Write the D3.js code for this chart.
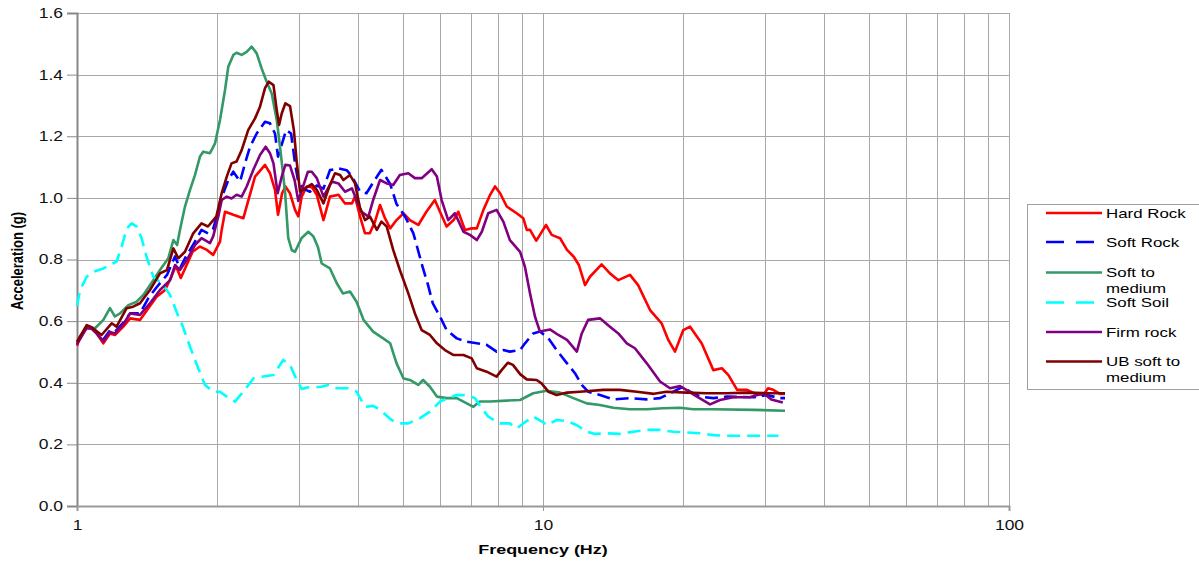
<!DOCTYPE html>
<html>
<head>
<meta charset="utf-8">
<script src="https://cdn.jsdelivr.net/npm/d3@7"></script>
<style>
  body { margin: 0; background: #fff; }
  svg { display: block; font-family: "Liberation Sans", Arial, sans-serif; }
</style>
</head>
<body>
<svg id="chart" width="1199" height="564"></svg>
<script>
// Spectral acceleration (g) versus frequency (Hz), one [frequency, acceleration] list per site class
const hardRock = [[1.00,0.52],[1.015,0.55],[1.049,0.577],[1.075,0.577],[1.102,0.56],[1.139,0.528],[1.177,0.56],[1.206,0.555],[1.257,0.582],[1.30,0.609],[1.365,0.604],[1.423,0.642],[1.482,0.679],[1.545,0.701],[1.59,0.74],[1.63,0.78],[1.67,0.74],[1.705,0.77],[1.77,0.825],[1.836,0.842],[1.90,0.831],[1.96,0.815],[2.027,0.858],[2.044,0.896],[2.078,0.955],[2.165,0.945],[2.275,0.934],[2.41,1.069],[2.532,1.107],[2.595,1.08],[2.66,1.026],[2.70,0.945],[2.755,1.015],[2.80,1.037],[2.865,1.015],[2.937,0.961],[2.985,0.94],[3.035,1.004],[3.11,1.037],[3.19,1.035],[3.27,1.01],[3.38,0.928],[3.49,1.004],[3.64,1.01],[3.76,0.982],[3.89,0.982],[3.95,1.004],[4.05,0.939],[4.15,0.885],[4.25,0.885],[4.36,0.923],[4.47,0.977],[4.58,0.934],[4.70,0.901],[4.85,0.928],[5.02,0.95],[5.18,0.928],[5.40,0.912],[5.62,0.955],[5.86,0.993],[6.01,0.955],[6.21,0.907],[6.43,0.928],[6.58,0.955],[6.80,0.896],[7.03,0.901],[7.21,0.901],[7.45,0.961],[7.70,1.01],[7.89,1.037],[8.09,1.015],[8.36,0.972],[8.78,0.95],[9.07,0.934],[9.23,0.896],[9.38,0.896],[9.67,0.861],[9.85,0.88],[10.15,0.912],[10.44,0.88],[10.88,0.869],[11.26,0.831],[11.64,0.809],[11.94,0.782],[12.31,0.717],[12.61,0.744],[13.36,0.784],[13.92,0.755],[14.51,0.733],[15.37,0.75],[16.0,0.717],[16.97,0.636],[17.97,0.593],[18.57,0.539],[19.2,0.501],[20.0,0.571],[20.68,0.582],[21.9,0.528],[23.2,0.441],[24.2,0.447],[25.0,0.425],[26.1,0.377],[27.4,0.377],[28.4,0.366],[29.7,0.36],[30.4,0.382],[31.2,0.377],[32.25,0.364],[33.06,0.364]];

const softRock = [[1.00,0.53],[1.049,0.58],[1.075,0.578],[1.102,0.565],[1.139,0.54],[1.177,0.57],[1.206,0.565],[1.257,0.595],[1.30,0.625],[1.365,0.625],[1.423,0.675],[1.482,0.71],[1.56,0.75],[1.623,0.81],[1.663,0.771],[1.705,0.804],[1.791,0.858],[1.85,0.896],[1.91,0.885],[1.96,0.90],[2.01,0.955],[2.06,1.015],[2.112,1.058],[2.165,1.085],[2.238,1.053],[2.294,1.112],[2.351,1.166],[2.43,1.209],[2.532,1.247],[2.595,1.242],[2.66,1.209],[2.70,1.134],[2.755,1.177],[2.81,1.22],[2.88,1.209],[2.937,1.112],[2.985,1.05],[3.06,1.03],[3.162,1.02],[3.27,1.04],[3.38,1.03],[3.49,1.09],[3.64,1.096],[3.79,1.09],[3.89,1.07],[4.05,1.02],[4.18,1.015],[4.32,1.05],[4.50,1.091],[4.70,1.045],[4.85,0.98],[5.06,0.939],[5.27,0.885],[5.53,0.77],[5.66,0.72],[5.80,0.658],[6.01,0.615],[6.21,0.571],[6.53,0.544],[6.86,0.533],[7.21,0.528],[7.57,0.523],[7.95,0.501],[8.22,0.506],[8.49,0.501],[8.93,0.506],[9.15,0.528],[9.53,0.56],[9.85,0.566],[10.27,0.544],[10.70,0.506],[11.26,0.463],[11.71,0.431],[12.11,0.393],[12.50,0.371],[13.25,0.36],[14.15,0.346],[15.37,0.35],[16.7,0.346],[17.83,0.35],[19.04,0.371],[20.0,0.387],[20.68,0.371],[21.73,0.355],[23.2,0.35],[24.8,0.355],[28.4,0.353],[30.2,0.36],[32.25,0.35],[33.06,0.35]];

const softToMedium = [[1.00,0.53],[1.049,0.582],[1.093,0.577],[1.139,0.604],[1.177,0.642],[1.206,0.615],[1.237,0.625],[1.289,0.652],[1.343,0.663],[1.388,0.685],[1.458,0.733],[1.507,0.766],[1.57,0.804],[1.61,0.863],[1.64,0.847],[1.663,0.896],[1.705,0.972],[1.748,1.026],[1.791,1.074],[1.836,1.134],[1.866,1.15],[1.929,1.145],[1.978,1.177],[2.027,1.253],[2.078,1.35],[2.112,1.426],[2.165,1.464],[2.20,1.471],[2.256,1.464],[2.313,1.474],[2.37,1.491],[2.43,1.469],[2.49,1.42],[2.553,1.377],[2.617,1.339],[2.683,1.253],[2.727,1.166],[2.795,1.02],[2.84,0.87],[2.89,0.83],[2.937,0.825],[3.035,0.87],[3.136,0.89],[3.215,0.875],[3.29,0.84],[3.35,0.787],[3.49,0.771],[3.61,0.723],[3.72,0.69],[3.853,0.696],[3.98,0.663],[4.12,0.604],[4.32,0.566],[4.54,0.544],[4.70,0.528],[4.85,0.463],[5.02,0.414],[5.18,0.409],[5.40,0.393],[5.53,0.409],[5.72,0.387],[5.92,0.355],[6.21,0.35],[6.53,0.35],[6.75,0.339],[7.09,0.322],[7.32,0.339],[7.70,0.339],[8.36,0.342],[8.93,0.344],[9.53,0.366],[10.18,0.374],[10.88,0.368],[11.62,0.35],[12.41,0.333],[13.25,0.328],[14.15,0.319],[15.37,0.314],[16.7,0.314],[18.1,0.317],[19.68,0.319],[21.0,0.314],[23.2,0.314],[28.4,0.312],[33.06,0.309]];

const softSoil = [[1.00,0.65],[1.015,0.70],[1.049,0.744],[1.084,0.76],[1.139,0.771],[1.177,0.782],[1.216,0.793],[1.247,0.842],[1.278,0.90],[1.31,0.917],[1.343,0.907],[1.376,0.869],[1.41,0.809],[1.458,0.744],[1.531,0.718],[1.584,0.685],[1.65,0.615],[1.677,0.593],[1.748,0.517],[1.82,0.447],[1.882,0.393],[1.962,0.371],[2.027,0.371],[2.096,0.355],[2.183,0.339],[2.275,0.371],[2.39,0.414],[2.51,0.42],[2.64,0.425],[2.77,0.474],[2.865,0.458],[2.96,0.409],[3.035,0.38],[3.162,0.387],[3.323,0.386],[3.46,0.393],[3.61,0.382],[3.82,0.382],[3.98,0.371],[4.15,0.322],[4.32,0.325],[4.47,0.312],[4.73,0.279],[4.93,0.268],[5.14,0.268],[5.446,0.285],[5.72,0.306],[6.01,0.339],[6.26,0.35],[6.53,0.36],[6.86,0.36],[7.146,0.35],[7.39,0.317],[7.63,0.29],[8.085,0.268],[8.49,0.268],[8.78,0.252],[9.07,0.268],[9.53,0.29],[9.95,0.274],[10.18,0.263],[10.70,0.279],[11.26,0.276],[11.82,0.262],[12.41,0.241],[12.93,0.234],[13.7,0.236],[14.63,0.234],[15.6,0.241],[16.7,0.247],[17.83,0.247],[19.04,0.241],[20.3,0.239],[21.73,0.236],[23.2,0.23],[24.8,0.228],[28.4,0.228],[32.0,0.228]];

const firmRock = [[1.00,0.525],[1.049,0.578],[1.075,0.575],[1.102,0.56],[1.139,0.535],[1.177,0.565],[1.206,0.56],[1.257,0.59],[1.30,0.625],[1.365,0.62],[1.434,0.658],[1.507,0.701],[1.584,0.733],[1.623,0.782],[1.663,0.766],[1.72,0.798],[1.791,0.847],[1.85,0.869],[1.929,0.853],[1.96,0.875],[2.01,0.94],[2.044,0.993],[2.096,1.004],[2.146,0.998],[2.20,1.01],[2.256,1.004],[2.313,1.037],[2.39,1.091],[2.47,1.139],[2.54,1.166],[2.595,1.145],[2.64,1.112],[2.695,1.015],[2.75,1.069],[2.80,1.107],[2.865,1.105],[2.93,1.058],[2.985,0.99],[3.06,1.04],[3.13,1.085],[3.19,1.085],[3.27,1.064],[3.38,1.004],[3.52,1.053],[3.64,1.047],[3.76,1.02],[3.89,1.031],[3.98,0.993],[4.08,0.955],[4.22,0.939],[4.32,0.993],[4.47,1.058],[4.62,1.047],[4.77,1.042],[4.93,1.074],[5.14,1.08],[5.31,1.064],[5.49,1.064],[5.77,1.093],[5.92,1.069],[6.06,0.993],[6.26,0.928],[6.47,0.95],[6.75,0.89],[6.97,0.88],[7.21,0.863],[7.39,0.89],[7.63,0.95],[7.95,0.961],[8.22,0.923],[8.49,0.863],[8.93,0.825],[9.15,0.775],[9.38,0.69],[9.61,0.615],[9.85,0.566],[10.35,0.573],[10.79,0.555],[11.26,0.539],[11.82,0.501],[12.11,0.56],[12.50,0.604],[13.25,0.609],[13.92,0.582],[14.51,0.56],[15.13,0.528],[15.75,0.512],[16.7,0.463],[17.83,0.404],[18.73,0.382],[19.68,0.389],[20.3,0.377],[21.4,0.355],[22.83,0.33],[23.98,0.344],[25.6,0.353],[27.8,0.353],[29.7,0.366],[30.9,0.346],[32.7,0.336]];

const ubSoftToMedium = [[1.00,0.533],[1.049,0.587],[1.075,0.58],[1.129,0.555],[1.187,0.593],[1.216,0.582],[1.278,0.642],[1.32,0.647],[1.365,0.658],[1.434,0.701],[1.507,0.755],[1.56,0.766],[1.61,0.836],[1.65,0.804],[1.705,0.825],[1.776,0.885],[1.85,0.917],[1.91,0.907],[1.99,0.939],[2.044,1.015],[2.096,1.069],[2.146,1.112],[2.20,1.118],[2.256,1.155],[2.33,1.22],[2.41,1.258],[2.47,1.296],[2.532,1.356],[2.58,1.377],[2.64,1.366],[2.683,1.285],[2.714,1.237],[2.75,1.274],[2.80,1.307],[2.865,1.298],[2.92,1.22],[2.96,1.12],[3.01,1.02],[3.086,1.031],[3.19,1.045],[3.27,1.026],[3.38,0.982],[3.49,1.042],[3.578,1.08],[3.668,1.074],[3.73,1.058],[3.853,1.074],[3.95,1.047],[4.05,0.966],[4.15,0.928],[4.254,0.939],[4.40,0.896],[4.50,0.923],[4.62,0.907],[4.77,0.831],[4.93,0.766],[5.14,0.69],[5.31,0.625],[5.49,0.571],[5.72,0.555],[5.92,0.528],[6.16,0.506],[6.43,0.49],[6.75,0.49],[7.03,0.479],[7.21,0.447],[7.57,0.436],[7.95,0.42],[8.15,0.441],[8.41,0.465],[8.62,0.458],[8.93,0.428],[9.23,0.411],[9.69,0.409],[9.93,0.398],[10.27,0.371],[10.70,0.36],[11.26,0.368],[12.0,0.371],[13.47,0.377],[14.63,0.377],[15.9,0.371],[17.3,0.364],[18.4,0.371],[20.3,0.368],[22.5,0.366],[24.8,0.366],[27.4,0.368],[30.7,0.366],[33.06,0.366]];

const seriesNames = ["Hard Rock", "Soft Rock", "Soft to medium", "Soft Soil", "Firm rock", "UB soft to medium"];
const legendLines = [["Hard Rock"], ["Soft Rock"], ["Soft to", "medium"], ["Soft Soil"], ["Firm rock"], ["UB soft to", "medium"]];
const yTickValues = [0, 0.2, 0.4, 0.6, 0.8, 1.0, 1.2, 1.4, 1.6];
const xTickValues = [1, 10, 100];
const xGridValues = [2, 3, 4, 5, 6, 7, 8, 9, 10, 20, 30, 40, 50, 60, 70, 80, 90];

const series = [
  { name: seriesNames[0], data: hardRock,       color: "#ff0000", dash: null },
  { name: seriesNames[1], data: softRock,       color: "#0000ff", dash: "13,6", legendDash: "18,12" },
  { name: seriesNames[2], data: softToMedium,   color: "#339966", dash: null },
  { name: seriesNames[3], data: softSoil,       color: "#00ffff", dash: "13,7", legendDash: "18,12" },
  { name: seriesNames[4], data: firmRock,       color: "#800080", dash: null },
  { name: seriesNames[5], data: ubSoftToMedium, color: "#800000", dash: null }
];

const svg = d3.select("#chart");
const plot = { left: 77, right: 1009, top: 13, bottom: 506 };
const textStretch = 1.25;

const x = d3.scaleLog().domain([1, 100]).range([plot.left, plot.right]);
const y = d3.scaleLinear().domain([0, 1.6]).range([plot.bottom, plot.top]);

// Grid
const grid = svg.append("g").attr("stroke", "#a8a8a8").attr("stroke-width", 1).attr("shape-rendering", "crispEdges");
grid.selectAll("line.h").data(yTickValues.slice(1)).join("line")
  .attr("x1", plot.left).attr("x2", plot.right)
  .attr("y1", d => Math.round(y(d)) + 0.5).attr("y2", d => Math.round(y(d)) + 0.5);
grid.selectAll("line.v").data(xGridValues.concat([100])).join("line")
  .attr("x1", d => Math.round(x(d)) + 0.5).attr("x2", d => Math.round(x(d)) + 0.5)
  .attr("y1", plot.top).attr("y2", plot.bottom);

// Axes
const yAxis = d3.axisLeft(y).tickValues(yTickValues).tickSize(10).tickPadding(4).tickFormat(d3.format(".1f"));
const gy = svg.append("g").attr("transform", `translate(${plot.left},0)`).call(yAxis);
gy.select(".domain").attr("stroke", "#888").attr("stroke-width", 2);
gy.selectAll(".tick line").attr("stroke", "#888").attr("stroke-width", 1);
gy.selectAll(".tick text")
  .attr("font-size", 14).attr("font-family", "Liberation Sans, Arial, sans-serif").attr("fill", "#111")
  .attr("x", -14 / textStretch).attr("transform", `scale(${textStretch},1)`);

const xAxis = d3.axisBottom(x).tickValues(xTickValues).tickSize(5).tickFormat(d3.format("d"));
const gx = svg.append("g").attr("transform", `translate(0,${plot.bottom})`).call(xAxis);
gx.select(".domain").attr("stroke", "#999").attr("stroke-width", 2);
gx.selectAll(".tick line").attr("stroke", "#999");
gx.selectAll(".tick text")
  .attr("font-size", 14).attr("font-family", "Liberation Sans, Arial, sans-serif").attr("fill", "#111")
  .attr("y", 14)
  .each(function (d) { d3.select(this).attr("transform", `translate(${0},0) scale(${textStretch},1)`); });

// Axis titles
function stretchedText(parent, px, py, str, opts) {
  const g = parent.append("g")
    .attr("transform", `translate(${px},${py}) scale(${opts.sx || textStretch},1)` + (opts.rotate ? ` rotate(${opts.rotate})` : ""));
  return g.append("text")
    .attr("font-size", opts.size)
    .attr("font-weight", opts.weight || "normal")
    .attr("text-anchor", opts.anchor || "start")
    .attr("dy", opts.dy || "0.35em")
    .attr("fill", "#000")
    .text(str);
}
stretchedText(svg, 543, 549, "Frequency (Hz)", { size: 13, weight: "bold", anchor: "middle", sx: 1.38 });
stretchedText(svg, 17, 261, "Acceleration (g)", { size: 13, weight: "bold", anchor: "middle", rotate: -90, sx: 1.25 });

// Series
const line = d3.line().x(d => x(d[0])).y(d => y(d[1])).curve(d3.curveLinear);
const lines = svg.append("g");
lines.selectAll("path").data(series).join("path")
  .attr("d", d => line(d.data))
  .attr("fill", "none")
  .attr("stroke", d => d.color)
  .attr("stroke-width", 2.6)
  .attr("stroke-linejoin", "round")
  .attr("stroke-dasharray", d => d.dash);

// Legend
const legend = svg.append("g");
legend.append("rect")
  .attr("x", 1027.5).attr("y", 204.5).attr("width", 175).attr("height", 185)
  .attr("fill", "#fff").attr("stroke", "#a0a0a0").attr("stroke-width", 1);
const rowY = [213, 242, 272.5, 302.5, 332, 361.5];
series.forEach((s, i) => {
  legend.append("line")
    .attr("x1", 1046).attr("x2", 1102).attr("y1", rowY[i]).attr("y2", rowY[i])
    .attr("stroke", s.color).attr("stroke-width", 2.6)
    .attr("stroke-dasharray", s.legendDash || null);
  legendLines[i].forEach((t, k) => {
    stretchedText(legend, 1106, rowY[i] + k * 16, t, { size: 13, sx: 1.3 });
  });
});
</script>
</body>
</html>
